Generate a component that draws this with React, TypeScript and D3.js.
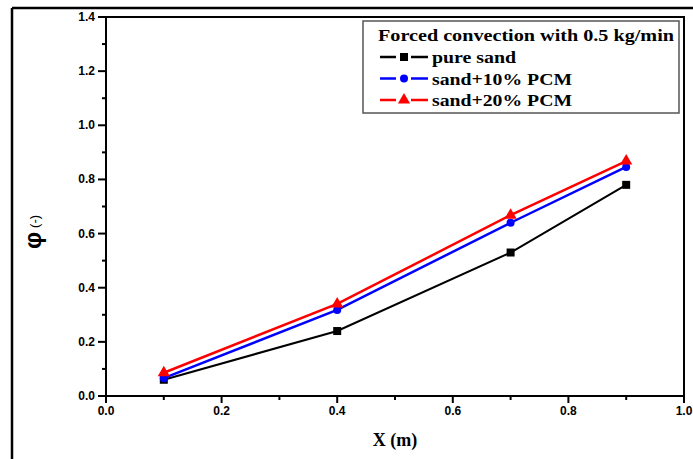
import React from "react";
import * as d3 from "d3";

const xValues = [0.1, 0.4, 0.7, 0.9];
const pureSand = [0.06, 0.24, 0.53, 0.78];
const sand10 = [0.066, 0.318, 0.64, 0.846];
const sand20 = [0.086, 0.34, 0.668, 0.868];
const seriesNames = ["pure sand", "sand+10% PCM", "sand+20% PCM"];
const seriesColors = ["#000000", "#0000ff", "#ff0000"];
const seriesShapes = ["square", "circle", "triangle"];
const xTicks = [0, 0.2, 0.4, 0.6, 0.8, 1.0];
const yTicks = [0, 0.2, 0.4, 0.6, 0.8, 1.0, 1.2, 1.4];
const legendTitle = "Forced convection with 0.5 kg/min";

const W = 693;
const H = 459;
const L = 106, R = 684, T = 17, B = 396;

export default function App() {
  const x = d3.scaleLinear().domain([0, 1]).range([L, R]);
  const y = d3.scaleLinear().domain([0, 1.4]).range([B, T]);
  const allSeries = [pureSand, sand10, sand20];
  const line = d3.line<[number, number]>().x(d => x(d[0])).y(d => y(d[1]));
  const xMinor = d3.range(0.1, 1.0, 0.2);
  const yMinor = d3.range(0.1, 1.4, 0.2);
  const tickFont = "'Liberation Sans', Arial, sans-serif";
  const serif = "'Liberation Serif', 'Times New Roman', serif";

  const marker = (shape: string, cx: number, cy: number, color: string, key: string) => {
    if (shape === "square") return <rect key={key} x={cx - 4} y={cy - 4} width={8} height={8} fill={color} />;
    if (shape === "circle") return <circle key={key} cx={cx} cy={cy} r={4} fill={color} />;
    const sym = d3.symbol().type(d3.symbolTriangle).size(64)();
    return <path key={key} d={sym || ""} transform={`translate(${cx},${cy})`} fill={color} />;
  };

  const labelWidths = [84, 140, 140];

  return (
    <svg width={W} height={H} style={{ position: "absolute", left: 0, top: 0, background: "#fff" }}>
      <rect x={0} y={0} width={W} height={H} fill="#fff" />
      {/* outer frame */}
      <line x1={12} y1={8} x2={12} y2={H} stroke="#000" strokeWidth={2.5} />
      <line x1={12} y1={8} x2={W} y2={8} stroke="#000" strokeWidth={2.5} />
      {/* plot frame */}
      <rect x={L} y={T} width={R - L} height={B - T} fill="none" stroke="#000" strokeWidth={2} />
      {/* x ticks */}
      {xTicks.map((t, i) => (
        <g key={"xt" + i}>
          <line x1={x(t)} x2={x(t)} y1={B} y2={B + 7} stroke="#000" strokeWidth={2} />
          <text x={x(t)} y={B + 19} textAnchor="middle" fontFamily={tickFont} fontWeight="bold" fontSize={12}>{t.toFixed(1)}</text>
        </g>
      ))}
      {xMinor.map((t, i) => (
        <line key={"xm" + i} x1={x(t)} x2={x(t)} y1={B} y2={B + 4} stroke="#000" strokeWidth={2} />
      ))}
      {yTicks.map((t, i) => (
        <g key={"yt" + i}>
          <line x1={L - 8} x2={L} y1={y(t)} y2={y(t)} stroke="#000" strokeWidth={2} />
          <text x={L - 11} y={y(t) + 4} textAnchor="end" fontFamily={tickFont} fontWeight="bold" fontSize={12}>{t.toFixed(1)}</text>
        </g>
      ))}
      {yMinor.map((t, i) => (
        <line key={"ym" + i} x1={L - 4} x2={L} y1={y(t)} y2={y(t)} stroke="#000" strokeWidth={2} />
      ))}
      {/* axis titles */}
      <text x={395} y={446} textAnchor="middle" fontFamily={serif} fontWeight="bold" fontSize={18}>X  (m)</text>
      <text transform="translate(41,232) rotate(-90)" textAnchor="middle" fontFamily={tickFont}>
        <tspan fontSize={24} fontWeight="bold">φ</tspan>
        <tspan fontSize={13} dx={4} dy={-2}>(-)</tspan>
      </text>
      {/* series */}
      {allSeries.map((vals, si) => {
        const pts: [number, number][] = xValues.map((xv, i) => [xv, vals[i]]);
        return (
          <g key={"s" + si}>
            <path d={line(pts) || ""} fill="none" stroke={seriesColors[si]} strokeWidth={si === 0 ? 2 : 2.5} />
            {pts.map((p, i) => marker(seriesShapes[si], x(p[0]), y(p[1]), seriesColors[si], `m${si}-${i}`))}
          </g>
        );
      })}
      {/* legend */}
      <rect x={363} y={21} width={316} height={92} fill="#fff" stroke="#555" strokeWidth={1.5} />
      <text x={378} y={41} fontFamily={serif} fontWeight="bold" fontSize={16} textLength={296} lengthAdjust="spacingAndGlyphs">{legendTitle}</text>
      {seriesNames.map((n, i) => {
        const ly = 57 + i * 21.5;
        return (
          <g key={"lg" + i}>
            <line x1={380} x2={428} y1={ly} y2={ly} stroke={seriesColors[i]} strokeWidth={2.5} />
            <rect x={396} y={ly - 2} width={15} height={4} fill="#fff" />
            {marker(seriesShapes[i], 404, ly, seriesColors[i], "lm" + i)}
            <text x={432} y={ly + 6} fontFamily={serif} fontWeight="bold" fontSize={16} textLength={labelWidths[i]} lengthAdjust="spacingAndGlyphs">{n}</text>
          </g>
        );
      })}
    </svg>
  );
}
